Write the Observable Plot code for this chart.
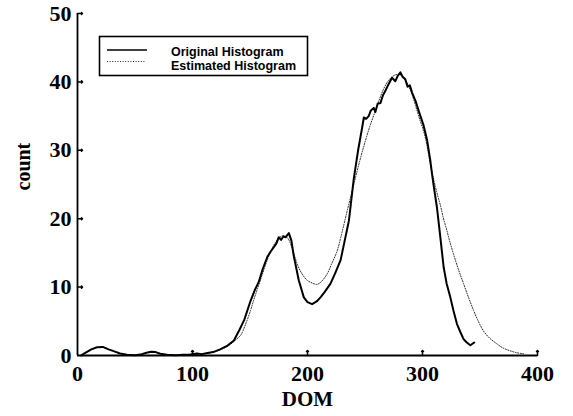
<!DOCTYPE html>
<html>
<head>
<meta charset="utf-8">
<script src="https://cdn.jsdelivr.net/npm/d3@7"></script>
<script src="https://cdn.jsdelivr.net/npm/@observablehq/plot@0.6"></script>
<style>
  html, body { margin: 0; padding: 0; background: #fff; }
  #chart { position: relative; width: 573px; height: 416px; }
</style>
</head>
<body>
<div id="chart"></div>
<script>
// Original histogram (solid)
const origX = [3, 6, 12, 17, 22, 27, 32, 37, 43, 50, 56, 60, 64, 68, 72, 78, 85, 92, 98, 104, 108, 113, 118, 124, 130, 136, 141, 145, 150.5, 154, 157.7, 161, 165, 168, 171, 173, 175, 177, 179, 181, 183.8, 186, 188, 192.4, 196.8, 200, 204, 208, 211.3, 215, 220, 224, 228.7, 232, 236, 240.2, 244, 247.5, 249, 251, 253.2, 255, 257.6, 259, 261, 263.4, 265.5, 267.7, 270, 273.5, 276.4, 278.5, 280.8, 282.5, 285, 287, 289, 291, 294, 296.6, 301, 304, 306.8, 308.3, 310, 312.6, 315.5, 318.4, 321, 324.2, 327, 330, 333, 335.7, 338.5, 341.6, 345];
const origY = [0, 0.3, 0.9, 1.2, 1.25, 0.9, 0.6, 0.3, 0.1, 0.05, 0.2, 0.4, 0.55, 0.5, 0.25, 0.1, 0.05, 0.1, 0.15, 0.3, 0.2, 0.35, 0.5, 0.9, 1.4, 2.2, 3.8, 5.2, 8.0, 9.5, 10.8, 12.6, 14.4, 15.2, 15.9, 16.4, 17.3, 16.9, 17.4, 17.3, 17.9, 16.8, 14.6, 11.0, 8.5, 7.8, 7.5, 7.9, 8.5, 9.3, 10.5, 12.0, 13.9, 16.5, 19.7, 25.8, 30.0, 33.3, 34.8, 34.6, 35.0, 35.8, 36.2, 35.6, 36.8, 36.9, 38.0, 38.7, 39.5, 40.6, 40.1, 40.9, 41.4, 40.8, 40.4, 39.3, 39.5, 38.4, 37.2, 35.8, 33.6, 31.5, 28.5, 26.5, 24.5, 21.6, 17.3, 12.9, 10.5, 8.5, 6.5, 4.6, 3.4, 2.4, 1.9, 1.5, 1.9];

// Estimated histogram (dotted)
const estX = [90, 100, 110, 118, 125, 131, 137, 142, 146, 150.5, 153, 156, 160, 164, 168, 172, 176, 179.5, 183, 187, 191, 195, 199.7, 204, 208.4, 212, 217, 221, 225.8, 230, 234, 238, 242, 246, 250, 254, 258, 262, 266, 270, 274, 278, 282, 286, 290, 294, 298, 301, 304, 307, 310, 313, 315.5, 318, 321.3, 324, 327, 331, 335.7, 340, 344.4, 348, 353, 358, 364.7, 370, 376, 382, 388];
const estY = [0, 0.1, 0.25, 0.5, 0.9, 1.4, 2.2, 3.0, 4.5, 6.6, 8.0, 9.5, 11.5, 13.5, 15.2, 16.5, 17.3, 17.5, 17.1, 15.5, 13.4, 12.0, 11.0, 10.6, 10.4, 10.8, 11.9, 13.4, 15.3, 18.0, 20.8, 23.5, 26.2, 28.8, 31.2, 33.4, 35.3, 37.2, 38.9, 40.1, 40.8, 41.1, 40.9, 40.0, 38.6, 36.5, 34.3, 32.8, 30.6, 27.8, 25.5, 23.5, 22.0, 20.2, 18.2, 16.5, 14.8, 12.7, 10.5, 8.5, 6.6, 5.2, 3.6, 2.6, 1.7, 1.1, 0.7, 0.4, 0.25];

const xTicks = [0, 100, 200, 300, 400];
const yTicks = [0, 10, 20, 30, 40, 50];
const seriesNames = ["Original Histogram", "Estimated Histogram"];

const orig = origX.map((x, i) => ({x, y: origY[i]}));
const est = estX.map((x, i) => ({x, y: estY[i]}));

const serif = "'Liberation Serif', 'Times New Roman', serif";

const plot = Plot.plot({
  width: 573,
  height: 416,
  marginLeft: 77,
  marginRight: 36,
  marginTop: 13,
  marginBottom: 61,
  style: {fontFamily: serif, background: "#fff", color: "#000"},
  x: {domain: [0, 400]},
  y: {domain: [0, 50]},
  marks: [
    Plot.axisX({ticks: xTicks, tickSize: 0, tickPadding: 10, fontSize: 22, fontWeight: "bold", label: null, tickFormat: d => String(d)}),
    Plot.axisY({ticks: yTicks, tickSize: 0, tickPadding: 6, fontSize: 22, fontWeight: "bold", label: null, tickFormat: d => String(d)}),
    Plot.vector(xTicks.filter(d => d > 0), {x: d => d, y: 0, length: 5, anchor: "start", stroke: "#000", strokeWidth: 1.5}),
    Plot.vector(yTicks.filter(d => d > 0), {x: 0, y: d => d, length: 5, rotate: 90, anchor: "start", stroke: "#000", strokeWidth: 1.5}),
    Plot.ruleY([0], {stroke: "#000", strokeWidth: 2}),
    Plot.ruleX([0], {stroke: "#000", strokeWidth: 1.8}),
    Plot.line(est, {x: "x", y: "y", curve: "catmull-rom", stroke: "#222", strokeWidth: 1, strokeDasharray: "1 1.6"}),
    Plot.line(orig, {x: "x", y: "y", curve: "linear", stroke: "#000", strokeWidth: 2, strokeLinejoin: "round"}),
    Plot.text(["DOM"], {frameAnchor: "bottom", dy: 50, text: d => d, fontSize: 21, fontWeight: "bold", fill: "#000"}),
    Plot.text(["count"], {frameAnchor: "left", dx: -54, dy: 6, rotate: -90, text: d => d, fontSize: 20, fontWeight: "bold", fill: "#000"})
  ]
});

// Legend inside the frame (drawn into the plot's SVG)
const g = d3.select(plot).append("g").attr("class", "legend").attr("text-anchor", "start");
g.append("rect").attr("x", 99.5).attr("y", 36.5).attr("width", 208).attr("height", 39)
  .attr("fill", "#fff").attr("stroke", "#000").attr("stroke-width", 1.6);
g.append("line").attr("x1", 107).attr("x2", 147).attr("y1", 50).attr("y2", 50)
  .attr("stroke", "#000").attr("stroke-width", 1.5);
g.append("line").attr("x1", 107).attr("x2", 146).attr("y1", 61.5).attr("y2", 61.5)
  .attr("stroke", "#222").attr("stroke-width", 1).attr("stroke-dasharray", "1 1.6");
g.selectAll("text.lg").data(seriesNames).join("text").attr("class", "lg")
  .attr("x", 171).attr("y", (d, i) => 56 + i * 13.5)
  .attr("text-anchor", "start")
  .attr("font-family", "'Liberation Sans', Arial, sans-serif")
  .attr("font-weight", "bold").attr("font-size", 12.5).attr("fill", "#000")
  .text(d => d);

document.getElementById("chart").appendChild(plot);
</script>
</body>
</html>
